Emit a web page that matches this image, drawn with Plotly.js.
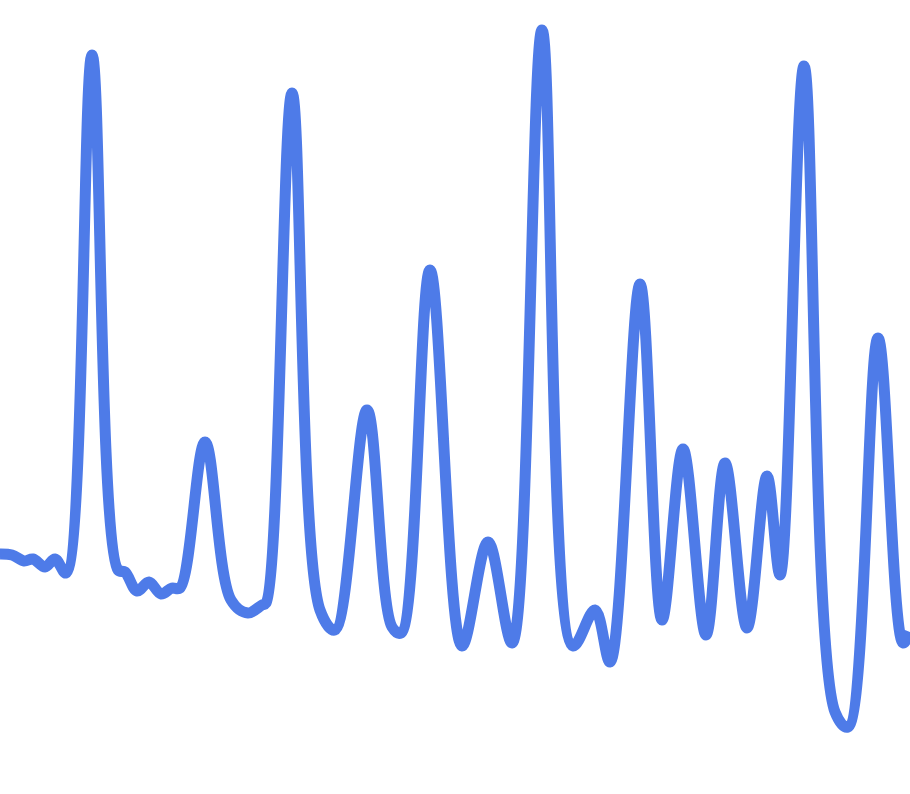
<!DOCTYPE html>
<html>
<head>
<meta charset="utf-8">
<script src="https://cdn.plot.ly/plotly-3.0.1.min.js"></script>
<style>
  html, body { margin: 0; padding: 0; background: #fff; }
  #chart { width: 910px; height: 794px; }
</style>
</head>
<body>
<div id="chart"></div>
<script>
// sample positions along the trace
const samplePos = [
    0, 12, 24, 33, 45, 55, 66, 92, 118, 125,
    137, 149, 161, 172, 180, 205, 231, 248, 262, 266,
    292, 320, 335, 367, 392, 401, 430, 462, 488, 512,
    542, 573, 595, 610, 640, 662, 683, 706, 725, 747,
    767, 780, 804, 835, 848, 878, 903, 910
];
// signal level at each sample
const signal = [
    240, 239, 233, 235, 227, 235, 221, 739, 224, 222,
    203, 212, 200, 206, 206, 352, 194, 181, 189, 191,
    701, 184, 164, 384, 167, 161, 524, 148, 252, 151,
    764, 148, 184, 132, 510, 174, 345, 159, 331, 166,
    318, 219, 728, 82, 67, 456, 151, 162
];

const data = [{
    x: samplePos,
    y: signal,
    type: 'scatter',
    mode: 'lines',
    line: {
        color: '#4e7be8',
        width: 11,
        shape: 'spline',
        smoothing: 1
    },
    hoverinfo: 'skip'
}];

const layout = {
    width: 910,
    height: 794,
    margin: { l: 0, r: 0, t: 0, b: 0, pad: 0 },
    paper_bgcolor: '#ffffff',
    plot_bgcolor: '#ffffff',
    showlegend: false,
    xaxis: { range: [0, 910], visible: false, fixedrange: true },
    yaxis: { range: [0, 794], visible: false, fixedrange: true }
};

const config = { displayModeBar: false, staticPlot: true };

Plotly.newPlot('chart', data, layout, config);
</script>
</body>
</html>
